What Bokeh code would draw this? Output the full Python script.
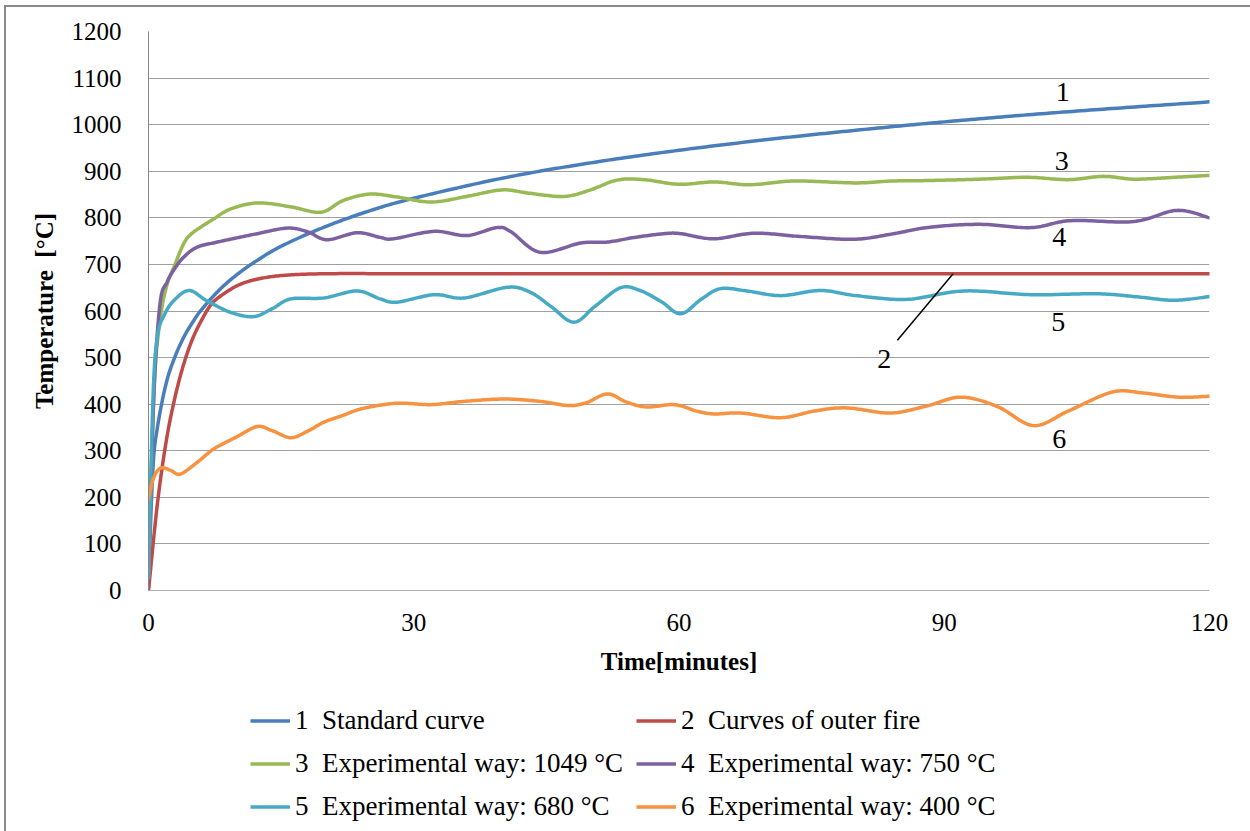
import numpy as np
from bokeh.plotting import figure
from bokeh.layouts import column
from bokeh.models import Range1d, Legend, LegendItem, FixedTicker, ColumnDataSource
from bokeh.embed import file_html
from bokeh.resources import INLINE
from bokeh.core.properties import value

# ---------------- data ----------------
t1 = [0, 0.5, 1, 2, 3, 4, 5, 6, 8, 10, 12, 15, 20, 25, 30, 40, 50, 60, 70, 80, 90, 100, 110, 120]
T1 = [20, 261, 349, 445, 502, 544, 576, 603, 645, 678, 705, 739, 781, 815, 842, 885, 918, 945, 968, 988, 1006, 1022, 1036, 1049]

t2 = [0, 1, 2, 3, 4, 5, 6, 7, 8, 10, 12, 15, 20, 30, 45, 60, 75, 90, 105, 120]
T2 = [0, 185, 320, 415, 487, 541, 580, 612, 630, 654, 667, 676, 680, 680, 680, 680, 680, 680, 680, 680]

t3 = [0, 0.6, 1.2, 2, 3, 4, 5, 7.4, 9.3, 12.3, 16, 19.5, 22, 25, 28, 32, 36, 40, 43, 47, 50, 53, 56, 60, 64, 68, 73, 80, 84, 88, 94, 99.4, 104, 108, 111.5, 116, 120]
T3 = [25, 420, 565, 650, 700, 745, 768, 798, 819, 832, 824, 812, 837, 851, 845, 834, 846, 860, 853, 846, 860, 881, 882, 872, 877, 871, 879, 875, 879, 880, 883, 887, 882, 889, 883, 887, 891]

t4 = [0, 0.6, 1.3, 2.1, 3, 4, 5.5, 7.8, 10, 12.3, 15.7, 18, 20.2, 23.6, 26.2, 27.7, 32.3, 36, 39.4, 41, 44.3, 48.9, 51.9, 55, 58.3, 60.2, 63.9, 68.5, 73.7, 79.8, 84, 88.4, 94.1, 99.8, 104.3, 111.4, 116.3, 120]
T4 = [25, 415, 615, 662, 692, 716, 737, 748, 757, 766, 778, 770, 753, 768, 758, 755, 771, 762, 779, 770, 726, 746, 748, 758, 766, 766, 755, 767, 760, 754, 765, 780, 786, 779, 794, 792, 816, 800]

t5 = [0, 0.5, 1, 1.8, 2.9, 4.6, 6.6, 9.3, 11.9, 14, 16.1, 19.8, 23.6, 26.2, 28.1, 32.3, 35.7, 40.6, 43.2, 45.5, 48.1, 50.5, 53.4, 55.6, 58, 60.2, 62.5, 64.7, 67.7, 71.5, 76, 80, 85.8, 92.2, 99.8, 107.3, 112, 116, 120]
T5 = [28, 410, 545, 592, 623, 644, 622, 597, 588, 605, 626, 628, 643, 626, 619, 635, 628, 651, 640, 610, 576, 610, 650, 644, 620, 594, 625, 648, 643, 633, 644, 633, 625, 643, 635, 637, 630, 623, 631]

t6 = [0, 0.6, 1.4, 2.5, 3.6, 5.5, 7.4, 10, 12.3, 14, 16.1, 18, 19.8, 22, 24.3, 28.1, 31.9, 35.7, 40.2, 44.3, 47.5, 49.5, 51.9, 54, 56.3, 59.5, 62, 64, 67, 71.5, 75.5, 79, 83.9, 88, 91.9, 96, 100.1, 104, 109, 112.5, 116.5, 120]
T6 = [197, 243, 263, 258, 250, 275, 304, 330, 352, 343, 328, 342, 361, 376, 391, 402, 399, 406, 411, 406, 397, 403, 422, 405, 394, 399, 385, 379, 381, 371, 386, 392, 381, 396, 415, 395, 354, 385, 426, 424, 415, 417]

series_times = [t1, t2, t3, t4, t5, t6]
series_temps = [T1, T2, T3, T4, T5, T6]
NB = "\u00a0\u00a0"
legend_labels = ["1" + NB + "Standard curve", "2" + NB + "Curves of outer fire",
                 "3" + NB + "Experimental way: 1049 °C", "4" + NB + "Experimental way: 750 °C",
                 "5" + NB + "Experimental way: 680 °C", "6" + NB + "Experimental way: 400 °C"]
colors = ["#4A7EBB", "#BE4B48", "#98B954", "#7D60A0", "#46AAC5", "#F69240"]

y_ticks = list(range(0, 1201, 100))
x_ticks = [0, 30, 60, 90, 120]

# curve number labels
lab_text = ["1", "3", "4", "5", "6", "2"]
lab_t = [103.4, 103.3, 103.0, 102.9, 103.0, 83.2]
lab_T = [1070, 923, 758, 577, 326, 498]
leader_t = [84.7, 91.0]
leader_T = [537, 680]

FONT = "Liberation Serif"
LW = 3.5


def smooth(xs, ys, n=20):
    """Excel-style smoothed line (Catmull-Rom / Bezier through the points)."""
    x = np.asarray(xs, float)
    y = np.asarray(ys, float)
    px = np.concatenate([[x[0]], x, [x[-1]]])
    py = np.concatenate([[y[0]], y, [y[-1]]])
    ox, oy = [], []
    s = np.linspace(0, 1, n, endpoint=False)
    for i in range(1, len(px) - 2):
        b0x, b0y = px[i], py[i]
        b3x, b3y = px[i + 1], py[i + 1]
        b1x = b0x + (px[i + 1] - px[i - 1]) / 6.0
        b1y = b0y + (py[i + 1] - py[i - 1]) / 6.0
        b2x = b3x - (px[i + 2] - px[i]) / 6.0
        b2y = b3y - (py[i + 2] - py[i]) / 6.0
        a = (1 - s) ** 3
        b = 3 * (1 - s) ** 2 * s
        c = 3 * (1 - s) * s ** 2
        d = s ** 3
        ox.extend(a * b0x + b * b1x + c * b2x + d * b3x)
        oy.extend(a * b0y + b * b1y + c * b2y + d * b3y)
    ox.append(x[-1])
    oy.append(y[-1])
    return ox, oy


# ---------------- main chart ----------------
p = figure(width=1244, height=673, output_backend="svg", toolbar_location=None,
           x_range=Range1d(0, 120), y_range=Range1d(0, 1200),
           min_border_left=142, min_border_right=41, min_border_top=24, min_border_bottom=90)
p.outline_line_color = None
p.background_fill_color = "white"
p.border_fill_color = "white"

p.xgrid.grid_line_color = None
p.ygrid.grid_line_color = "#A0A0A0"
p.ygrid.grid_line_width = 1
p.ygrid.ticker = FixedTicker(ticks=y_ticks)

p.xaxis.ticker = FixedTicker(ticks=x_ticks)
p.yaxis.ticker = FixedTicker(ticks=y_ticks)
for ax in (p.xaxis[0], p.yaxis[0]):
    ax.major_tick_out = 0
    ax.major_tick_in = 0
    ax.minor_tick_out = 0
    ax.minor_tick_in = 0
    ax.major_label_text_font = FONT
    ax.major_label_text_font_size = "25px"
    ax.major_label_text_color = "black"
    ax.axis_label_text_font = FONT
    ax.axis_label_text_font_size = "25px"
    ax.axis_label_text_font_style = "bold"
    ax.axis_label_text_color = "black"
p.xaxis.axis_line_color = "#B0B0B0"
p.yaxis.axis_line_color = "#868686"
p.xaxis.axis_label = "Time[minutes]"
p.yaxis.axis_label = "Temperature\u00a0 [°C]"
p.xaxis.major_label_standoff = 23
p.xaxis.axis_label_standoff = 14
p.yaxis.major_label_standoff = 27
p.yaxis.axis_label_standoff = 11

smoothed = [smooth(tt, TT) for tt, TT in zip(series_times, series_temps)]
for (sx, sy), col in zip(smoothed, colors):
    p.line(sx, sy, line_color=col, line_width=LW, line_join="round", line_cap="round")

p.line(leader_t, leader_T, line_color="black", line_width=1.5)
src = ColumnDataSource(dict(x=lab_t, y=lab_T, txt=lab_text))
p.text(x="x", y="y", text="txt", source=src, text_font=value(FONT), text_font_size="28px",
       text_align="center", text_baseline="middle", text_color="black")

# ---------------- legend strip below the chart ----------------
# the same series are drawn here outside the visible range, only to feed the legend
q = figure(width=1244, height=151, output_backend="svg", toolbar_location=None,
           x_axis_location=None, y_axis_location=None,
           x_range=Range1d(0, 120), y_range=Range1d(-3000, -2000), min_border=0)
q.outline_line_color = None
q.background_fill_color = "white"
q.border_fill_color = "white"
q.grid.grid_line_color = None
items = []
for (sx, sy), col, lab in zip(smoothed, colors, legend_labels):
    r = q.line(sx, sy, line_color=col, line_width=LW)
    items.append(LegendItem(label=lab, renderers=[r]))
legend = Legend(items=items, orientation="horizontal", ncols=2,
                location=(102, 9), border_line_color=None, background_fill_alpha=0,
                label_text_font=FONT, label_text_font_size="27px", label_text_color="black",
                glyph_width=40, glyph_height=29, label_height=29, label_width=329,
                label_standoff=5, spacing=12, padding=10, margin=0)
q.add_layout(legend, "center")

layout = column(p, q, spacing=0,
                styles={"margin-left": "4px", "margin-top": "5px",
                        "border-left": "2px solid #8a8a8a", "border-top": "2px solid #8a8a8a"})

open("out.html", "w").write(file_html(layout, INLINE))
